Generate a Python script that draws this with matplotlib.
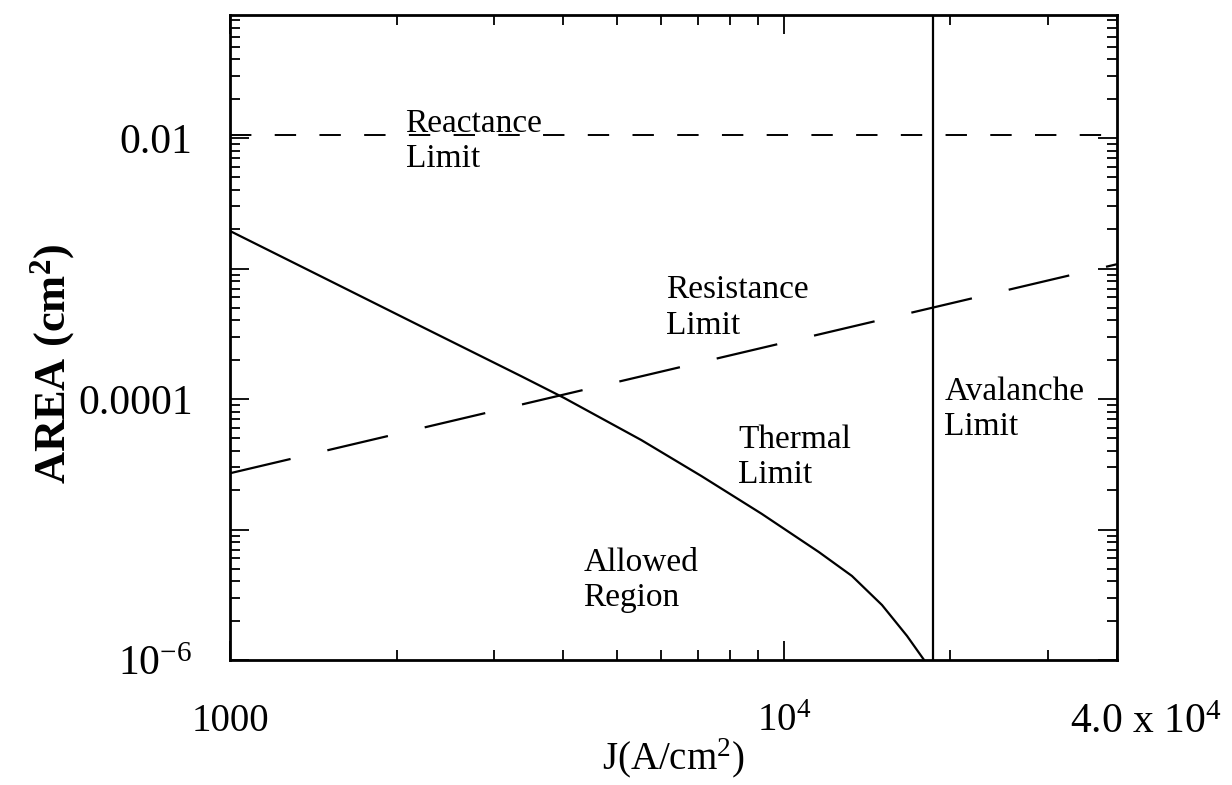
import numpy as np
import matplotlib
matplotlib.use("Agg")
import matplotlib.pyplot as plt
from matplotlib.ticker import LogLocator, FixedLocator, FixedFormatter, NullFormatter

plt.rcParams['font.family'] = ['Liberation Serif', 'DejaVu Serif']
plt.rcParams['mathtext.fontset'] = 'custom'
plt.rcParams['mathtext.rm'] = 'Liberation Serif'
plt.rcParams['mathtext.it'] = 'Liberation Serif:italic'
plt.rcParams['mathtext.bf'] = 'Liberation Serif:bold'

# data
thermal_j = [1000, 1455, 2209, 3353, 4012, 5531, 7101, 9124, 11570, 13280, 15050, 16700, 17930]
thermal_a = [1.94e-3, 8.77e-4, 3.62e-4, 1.50e-4, 1.02e-4, 4.85e-5, 2.57e-5, 1.32e-5,
             6.73e-6, 4.41e-6, 2.64e-6, 1.53e-6, 1.0e-6]

resist_j = [1000, 40000]
resist_a = [2.7e-5, 1.08e-3]

react_j = [1000, 40000]
react_a = [0.0105, 0.0105]

avalanche_j = 18600

xlim = (1000, 40000)
ylim = (1e-6, 0.0877)

ytick_vals = [1e-6, 1e-5, 1e-4, 1e-3, 1e-2]
ytick_labels = ['10$^{\\mathregular{-6}}$', '', '0.0001', '', '0.01']
xtick_vals = [1000, 10000]
xtick_labels = ['1000', '10$^{\\mathregular{4}}$']

fig = plt.figure(figsize=(12.32, 7.85), dpi=100)
ax = fig.add_axes([0.1867, 0.1592, 0.72, 0.8217])

ax.plot(thermal_j, thermal_a, color='black', lw=1.6)
ax.plot(resist_j, resist_a, color='black', lw=1.6, dashes=(28, 17))
ax.plot(react_j, react_a, color='black', lw=1.4, dashes=(11, 12), dash_capstyle='butt')
ax.axvline(avalanche_j, color='black', lw=1.6)

ax.set_xscale('log')
ax.set_yscale('log')
ax.set_xlim(*xlim)
ax.set_ylim(*ylim)

ax.yaxis.set_major_locator(FixedLocator(ytick_vals))
ax.yaxis.set_major_formatter(FixedFormatter(ytick_labels))
ax.yaxis.set_minor_locator(LogLocator(base=10, subs=np.arange(2, 10), numticks=20))
ax.yaxis.set_minor_formatter(NullFormatter())

ax.xaxis.set_major_locator(FixedLocator(xtick_vals))
ax.xaxis.set_major_formatter(FixedFormatter(xtick_labels))
ax.xaxis.set_minor_locator(LogLocator(base=10, subs=np.arange(2, 10), numticks=20))
ax.xaxis.set_minor_formatter(NullFormatter())

ax.tick_params(which='both', direction='in', top=True, right=True, width=1.3)
ax.tick_params(which='major', length=14)
ax.tick_params(which='minor', length=7)
ax.tick_params(axis='x', which='major', labelsize=28, pad=31)
ax.tick_params(axis='y', which='major', labelsize=30, pad=27)

for s in ax.spines.values():
    s.set_linewidth(2)

ax.annotate('4.0 x 10$^{\\mathregular{4}}$', xy=(40000, 0), xycoords=('data', 'axes fraction'),
            xytext=(21, -31), textcoords='offset points', ha='center', va='top', fontsize=30)

ax.set_xlabel('J(A/cm$^{\\mathregular{2}}$)', fontsize=28, labelpad=-3)
ax.set_ylabel('AREA (cm$^{\\mathbf{2}}$)', fontsize=32, fontweight='bold', labelpad=4)
ax.yaxis.set_label_coords(-0.172, 0.46)

txt = dict(fontsize=24, ha='left', va='center', linespacing=1.2)
ax.text(2075, 0.0095, 'Reactance\nLimit', **txt)
ax.text(6138, 5.0e-4, 'Resistance\nLimit', **txt)
ax.text(8277, 3.6e-5, 'Thermal\nLimit', **txt)
ax.text(4345, 4.1e-6, 'Allowed\nRegion', **txt)
ax.text(19500, 8.3e-5, 'Avalanche\nLimit', **txt)

plt.savefig('out.png', dpi=100)
